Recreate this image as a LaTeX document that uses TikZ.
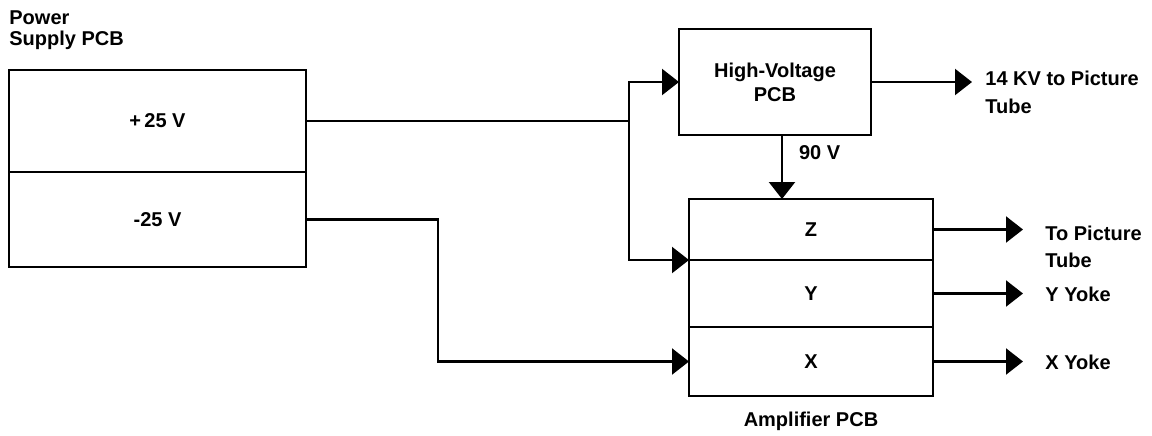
\documentclass[tikz,border=0pt]{standalone}
\usepackage{fontspec}
\setmainfont{Liberation Sans}
\usetikzlibrary{arrows.meta, positioning}
\tikzset{
    block/.style={draw, line width=1.1pt, outer sep=0pt, inner sep=0pt, font=\bfseries},
    sig/.style={-{Triangle[length=8.5pt, width=13pt]}, line width=1.1pt},
    caption/.style={inner sep=0pt, font=\bfseries, align=left}
}

\begin{document}
\begin{tikzpicture}[x=0.5pt, y=-0.5pt]
    \useasboundingbox (0,0) rectangle (1152,435);
    % Power supply
    \node[caption, anchor=north west] (pstitle) at (9,10) {Power\\[-1.5pt]Supply PCB};
    \node[block, anchor=north west, minimum width=148.5pt, minimum height=51pt] (psplus) at (9,70) {+\,25 V};
    \node[block, below=0pt of psplus, minimum width=148.5pt, minimum height=47.5pt] (psminus) {-25 V};
    % High-voltage and amplifier boards
    \node[block, anchor=north west, minimum width=96pt, minimum height=53pt, align=center] (hv) at (679,29) {High-Voltage\\PCB};
    \node[block, anchor=north west, minimum width=122pt, minimum height=30.5pt] (zbox) at (689,199) {Z};
    \node[block, below=0pt of zbox, minimum width=122pt, minimum height=33.5pt] (ybox) {Y};
    \node[block, below=0pt of ybox, minimum width=122pt, minimum height=34.5pt] (xbox) {X};
    \node[caption, below=8pt of xbox] (amptitle) {Amplifier PCB};

    \coordinate (split) at (629,0);
    \coordinate (bend) at (438,0);
    \coordinate (tap) at (782,0);
    \coordinate (hvtip) at (972,0);
    \coordinate (amptip) at (1023,0);

    % Supply lines
    \draw[sig] (psplus.east) -| (split |- hv.west) -- (hv.west);
    \draw[sig] (psplus.east -| split) |- (zbox.south west);
    \draw[sig] (psminus.east) -| (bend |- xbox.west) -- (xbox.west);
    \draw[sig] (hv.south -| tap) -- (zbox.north -| tap) node[caption, pos=0.28, right=8pt] (vlabel) {90 V};

    % Outputs
    \draw[sig] (hv.east) -- (hv.east -| hvtip);
    \node[caption, anchor=north west] (hvout) at (985,71) {14 KV to Picture\\[2pt]Tube};
    \draw[sig] (zbox.east) -- (zbox.east -| amptip);
    \node[caption, anchor=north west] (zout) at (1045,226) {To Picture\\[1.5pt]Tube};
    \draw[sig] (ybox.east) -- (ybox.east -| amptip);
    \node[caption, anchor=west] (yout) at (1045,294) {Y Yoke};
    \draw[sig] (xbox.east) -- (xbox.east -| amptip);
    \node[caption, anchor=west] (xout) at (1045,362) {X Yoke};
\end{tikzpicture}
\end{document}
